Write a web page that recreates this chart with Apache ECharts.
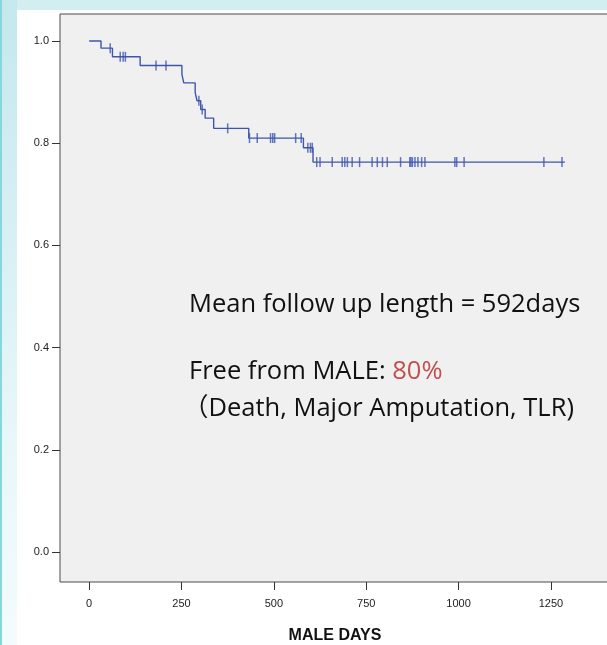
<!DOCTYPE html>
<html><head><meta charset="utf-8">
<script src="https://cdn.jsdelivr.net/npm/echarts@6/dist/echarts.min.js"></script>
<style>
html,body{margin:0;padding:0;width:607px;height:645px;overflow:hidden;background:#d3eef1;}
#strip{position:absolute;left:0;top:0;width:17px;height:645px;background:linear-gradient(to bottom,#c4e8ed,#e9f7f9 70%,#f4fbfc);border-left:2px solid #86d6de;box-sizing:border-box;}
#white{position:absolute;left:17px;top:10px;right:0;bottom:0;background:#ffffff;}
#chart{position:absolute;left:0;top:0;width:607px;height:645px;}
</style></head>
<body><div id="strip"></div><div id="white"></div><div id="chart"></div>
<script>
// Kaplan-Meier steps (day, survival)
const stepDays  = [0, 32, 63, 138, 251, 256, 287, 292, 302, 314, 337, 432, 580, 606, 1288];
const stepSurv  = [1.000, 0.986, 0.969, 0.952, 0.935, 0.918, 0.899, 0.883, 0.866, 0.849, 0.829, 0.810, 0.791, 0.763, 0.763];
// censored observations (day, survival)
const censorDays = [57, 84, 92, 98, 181, 208, 297, 306, 375,
  434, 455, 491, 497, 502, 559, 574, 592, 599, 604,
  616, 625, 658, 685, 692, 699, 712, 732, 766, 780, 794, 807, 843, 868, 871, 875, 882, 890, 900, 909, 990, 995, 1015, 1231, 1280];
const censorSurv = [0.986, 0.969, 0.969, 0.969, 0.952, 0.952, 0.883, 0.866, 0.829,
  0.810, 0.810, 0.810, 0.810, 0.810, 0.810, 0.810, 0.791, 0.791, 0.791,
  0.763, 0.763, 0.763, 0.763, 0.763, 0.763, 0.763, 0.763, 0.763, 0.763, 0.763, 0.763, 0.763, 0.763, 0.763, 0.763, 0.763, 0.763, 0.763, 0.763, 0.763, 0.763, 0.763, 0.763, 0.763];
const xTicks = [0, 250, 500, 750, 1000, 1250];
const yTicks = [0, 0.2, 0.4, 0.6, 0.8, 1.0];

const chart = echarts.init(document.getElementById('chart'), null, {renderer:'canvas'});
const lineColor = '#3f55ac';
const txtFont = '25.5px "Open Sans", "Noto Sans CJK JP"';
chart.setOption({
  backgroundColor: 'transparent',
  animation: false,
  grid: {left: 60, top: 14, right: -3, bottom: 63, outerBoundsMode: 'none', containLabel: false,
         show: true, backgroundColor: '#f0f0f0', borderColor: '#4a4a4a', borderWidth: 1},
  xAxis: {
    type: 'value', min: -79, max: 1410,
    axisLine: {show: false, onZero: false},
    splitLine: {show: false},
    axisTick: {show: true, length: 8, customValues: xTicks, lineStyle: {color: '#333', width: 1}},
    axisLabel: {customValues: xTicks, formatter: v => String(v), color: '#222', fontFamily: 'Liberation Sans, Arial', fontSize: 11, margin: 16},
    name: 'MALE DAYS', nameLocation: 'middle', nameGap: 46,
    nameTextStyle: {fontFamily: 'Liberation Sans, Arial', fontWeight: 'bold', fontSize: 16, color: '#111'}
  },
  yAxis: {
    type: 'value', min: -0.0587, max: 1.0528,
    axisLine: {show: false, onZero: false},
    splitLine: {show: false},
    axisTick: {show: true, length: 8, customValues: yTicks, lineStyle: {color: '#333', width: 1}},
    axisLabel: {customValues: yTicks, formatter: v => v.toFixed(1), color: '#222', fontFamily: 'Liberation Sans, Arial', fontSize: 11, margin: 11}
  },
  series: [
    {type: 'line', step: 'end', symbol: 'none', data: stepDays.map((d, i) => [d, stepSurv[i]]),
     lineStyle: {color: lineColor, width: 1.4}, z: 3},
    {type: 'scatter', symbol: 'rect', symbolSize: [1.5, 10], data: censorDays.map((d, i) => [d, censorSurv[i]]),
     itemStyle: {color: lineColor}, z: 4}
  ],
  graphic: [
    {type: 'text', left: 189, top: 292, style: {
      text: 'Mean follow up length = 592days', font: txtFont, fill: '#111'}},
    {type: 'text', left: 189, top: 359, style: {
      text: 'Free from MALE: {r|80%}', font: txtFont, fill: '#111',
      rich: {r: {fill: '#c0504d', font: txtFont}}}},
    {type: 'text', left: 183, top: 396, style: {
      text: '（Death, Major Amputation, TLR)', font: txtFont, fill: '#111'}}
  ]
});
</script></body></html>
